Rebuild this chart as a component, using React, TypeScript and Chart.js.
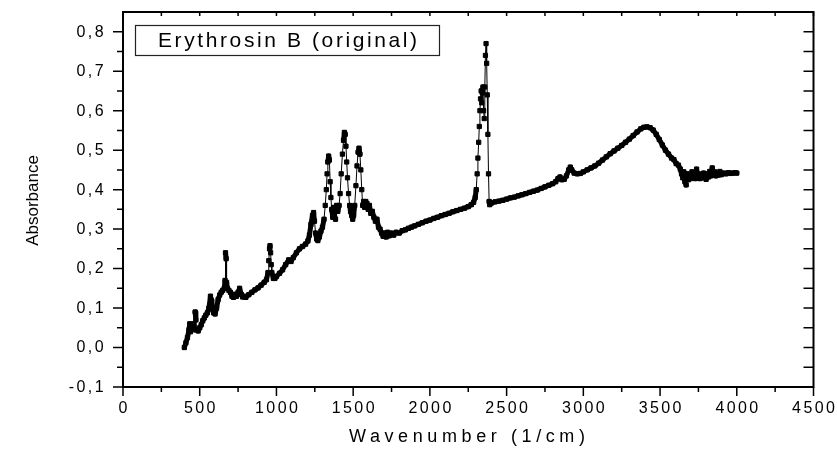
import { useEffect, useRef } from "react";
import { Chart, registerables } from "chart.js";

Chart.register(...registerables);

// FTIR spectrum of Erythrosin B, wavenumber in 1/cm
const wavenumber = [
  400, 410, 420, 430, 435, 440, 450, 460, 465, 470, 475, 480, 490, 500, 510, 520, 530, 540, 550, 560,
  570, 575, 580, 590, 600, 610, 620, 630, 640, 650, 660, 665, 668, 672, 675, 680, 690, 700, 710, 720,
  730, 740, 750, 760, 770, 780, 790, 800, 820, 840, 860, 880, 900, 920, 935, 945, 950, 955, 958, 962,
  966, 970, 980, 990, 1000, 1020, 1040, 1060, 1080, 1095, 1110, 1130, 1150, 1170, 1190, 1205, 1215, 1225, 1235, 1242,
  1248, 1255, 1262, 1270, 1280, 1290, 1300, 1310, 1318, 1325, 1330, 1335, 1340, 1345, 1350, 1355, 1360, 1367, 1372, 1378,
  1385, 1392, 1400, 1408, 1415, 1422, 1430, 1437, 1443, 1448, 1453, 1458, 1463, 1470, 1477, 1483, 1490, 1497, 1503, 1510,
  1518, 1525, 1532, 1538, 1544, 1550, 1556, 1562, 1568, 1575, 1582, 1590, 1598, 1606, 1615, 1625, 1635, 1645, 1655, 1665,
  1675, 1685, 1695, 1705, 1715, 1725, 1735, 1750, 1765, 1780, 1800, 1820, 1840, 1860, 1880, 1900, 1925, 1950, 1975, 2000,
  2025, 2050, 2075, 2100, 2125, 2150, 2175, 2200, 2225, 2250, 2270, 2285, 2295, 2302, 2308, 2313, 2318, 2322, 2326, 2330,
  2334, 2338, 2342, 2346, 2350, 2354, 2358, 2362, 2366, 2370, 2374, 2378, 2382, 2386, 2390, 2400, 2425, 2450, 2475, 2500,
  2525, 2550, 2575, 2600, 2625, 2650, 2675, 2700, 2725, 2750, 2775, 2800, 2820, 2835, 2848, 2860, 2875, 2890, 2905, 2915,
  2925, 2940, 2960, 2980, 3000, 3025, 3050, 3075, 3100, 3125, 3150, 3175, 3200, 3225, 3250, 3275, 3300, 3325, 3350, 3375,
  3395, 3415, 3435, 3455, 3475, 3495, 3515, 3535, 3555, 3575, 3590, 3605, 3620, 3632, 3640, 3648, 3655, 3662, 3670, 3677,
  3685, 3692, 3700, 3708, 3715, 3722, 3730, 3738, 3745, 3752, 3760, 3768, 3776, 3784, 3792, 3800, 3808, 3816, 3824, 3832,
  3840, 3848, 3856, 3864, 3872, 3880, 3890, 3900, 3915, 3930, 3945, 3960, 3975, 3990, 4000,
];

const absorbance = [
  0.0, 0.012, 0.025, 0.045, 0.06, 0.04, 0.055, 0.06, 0.045, 0.09, 0.07, 0.045, 0.042, 0.05, 0.058, 0.068, 0.075, 0.082, 0.088, 0.1,
  0.13, 0.12, 0.1, 0.088, 0.085, 0.1, 0.122, 0.133, 0.14, 0.145, 0.15, 0.17, 0.24, 0.225, 0.165, 0.15, 0.145, 0.14, 0.13, 0.127,
  0.135, 0.13, 0.14, 0.15, 0.135, 0.128, 0.13, 0.127, 0.134, 0.14, 0.146, 0.151, 0.158, 0.165, 0.172, 0.19, 0.22, 0.25, 0.258, 0.24,
  0.21, 0.19, 0.175, 0.175, 0.18, 0.188, 0.197, 0.21, 0.222, 0.218, 0.228, 0.24, 0.25, 0.256, 0.262, 0.27, 0.285, 0.312, 0.335, 0.342,
  0.32, 0.29, 0.275, 0.271, 0.28, 0.295, 0.305, 0.325, 0.36, 0.4, 0.44, 0.47, 0.485, 0.475, 0.42, 0.38, 0.35, 0.33, 0.355, 0.335,
  0.325, 0.36, 0.345, 0.36, 0.39, 0.44, 0.49, 0.525, 0.545, 0.54, 0.51, 0.47, 0.43, 0.39, 0.36, 0.345, 0.335, 0.325, 0.335, 0.36,
  0.41, 0.46, 0.495, 0.505, 0.49, 0.45, 0.4, 0.36, 0.37, 0.355, 0.37, 0.365, 0.35, 0.36, 0.34, 0.345, 0.33, 0.32, 0.325, 0.305,
  0.3, 0.29, 0.282, 0.29, 0.28, 0.292, 0.283, 0.29, 0.285, 0.292, 0.29, 0.296, 0.298, 0.302, 0.305, 0.308, 0.312, 0.316, 0.32, 0.323,
  0.327, 0.33, 0.334, 0.337, 0.34, 0.344, 0.347, 0.35, 0.353, 0.357, 0.362, 0.368, 0.38, 0.4, 0.44, 0.48, 0.52, 0.56, 0.6, 0.63,
  0.65, 0.62, 0.645, 0.66, 0.6, 0.58, 0.66, 0.74, 0.77, 0.72, 0.64, 0.54, 0.44, 0.37, 0.362, 0.366, 0.369, 0.371, 0.373, 0.376,
  0.379, 0.381, 0.384, 0.387, 0.39, 0.393, 0.396, 0.399, 0.403, 0.407, 0.411, 0.415, 0.42, 0.428, 0.432, 0.425, 0.426, 0.435, 0.45, 0.457,
  0.45, 0.442, 0.44, 0.441, 0.445, 0.45, 0.455, 0.46, 0.467, 0.475, 0.483, 0.491, 0.498, 0.505, 0.512, 0.52, 0.528, 0.537, 0.546, 0.554,
  0.558, 0.559, 0.557, 0.551, 0.54, 0.527, 0.513, 0.5, 0.49, 0.48, 0.476, 0.466, 0.462, 0.452, 0.44, 0.43, 0.445, 0.42, 0.412, 0.44,
  0.425, 0.435, 0.428, 0.445, 0.43, 0.438, 0.428, 0.452, 0.432, 0.44, 0.428, 0.436, 0.43, 0.442, 0.432, 0.426, 0.44, 0.432, 0.446, 0.435,
  0.455, 0.438, 0.445, 0.435, 0.443, 0.437, 0.446, 0.438, 0.442, 0.44, 0.443, 0.441, 0.442, 0.443, 0.442,
];

const xTickValues = [0, 500, 1000, 1500, 2000, 2500, 3000, 3500, 4000, 4500];
const yTickValues = [-0.1, 0.0, 0.1, 0.2, 0.3, 0.4, 0.5, 0.6, 0.7, 0.8];

const seriesLabel = "Erythrosin B (original)";
const xTitle = "Wavenumber (1/cm)";
const yTitle = "Absorbance";

const FONT = "'Liberation Sans', Arial, Helvetica, sans-serif";

const formatDecimal = (v: number) => v.toFixed(1).replace(".", ",");

// Densely sampled stretches read as a solid band; steep flanks show a thin
// connecting line between the individual square markers.
const segmentWidth = (ctx: any) => {
  const dx = Math.abs(ctx.p1.x - ctx.p0.x);
  const dy = Math.abs(ctx.p1.y - ctx.p0.y);
  return dy > 9 * dx + 1 ? 1 : 5;
};

// Draws the boxed frame, Origin-style ticks, labels, titles and legend box
const framePlugin = {
  id: "originFrame",
  afterDatasetsDraw(chart: any) {
    const { ctx, chartArea: a, scales } = chart;
    const xs = scales.x;
    const ys = scales.y;
    const anyCtx = ctx as any;

    ctx.save();
    ctx.strokeStyle = "#000";
    ctx.fillStyle = "#000";

    // frame
    ctx.lineWidth = 2;
    ctx.strokeRect(a.left, a.top, a.right - a.left, a.bottom - a.top);

    ctx.lineWidth = 1.5;
    ctx.beginPath();
    // x ticks: major at labels, minor halfway
    const xStep = xTickValues[1] - xTickValues[0];
    xTickValues.forEach((v, i) => {
      const px = xs.getPixelForValue(v);
      ctx.moveTo(px, a.bottom);
      ctx.lineTo(px, a.bottom + 9);
      ctx.moveTo(px, a.top);
      ctx.lineTo(px, a.top + 4);
      if (i < xTickValues.length - 1) {
        const pm = xs.getPixelForValue(v + xStep / 2);
        ctx.moveTo(pm, a.bottom);
        ctx.lineTo(pm, a.bottom + 5);
        ctx.moveTo(pm, a.top);
        ctx.lineTo(pm, a.top + 4);
      }
    });
    // y ticks: major outward on the left, all inward on the right
    const yStep = 0.1;
    yTickValues.forEach((v) => {
      const py = ys.getPixelForValue(v);
      ctx.moveTo(a.left, py);
      ctx.lineTo(a.left - 10, py);
      ctx.moveTo(a.right, py);
      ctx.lineTo(a.right - 10, py);
      const pm = ys.getPixelForValue(v + yStep / 2);
      if (pm > a.top + 1) {
        ctx.moveTo(a.left, pm);
        ctx.lineTo(a.left - 6, pm);
        ctx.moveTo(a.right, pm);
        ctx.lineTo(a.right - 10, pm);
      }
    });
    ctx.stroke();

    // tick labels
    ctx.font = `16px ${FONT}`;
    anyCtx.letterSpacing = "2.4px";
    ctx.textBaseline = "middle";
    ctx.textAlign = "center";
    xTickValues.forEach((v) => {
      ctx.fillText(String(v), xs.getPixelForValue(v) + 1.2, a.bottom + 22);
    });
    ctx.textAlign = "right";
    yTickValues.forEach((v) => {
      ctx.fillText(formatDecimal(v), a.left - 17, ys.getPixelForValue(v) + 0.5);
    });

    // axis titles
    ctx.font = `18px ${FONT}`;
    anyCtx.letterSpacing = "4.6px";
    ctx.textAlign = "center";
    ctx.fillText(xTitle, (a.left + a.right) / 2 + 1, 437);

    ctx.save();
    ctx.font = `17px ${FONT}`;
    anyCtx.letterSpacing = "0px";
    ctx.translate(33, (a.top + a.bottom) / 2 + 1);
    ctx.rotate(-Math.PI / 2);
    ctx.fillText(yTitle, 0, 0);
    ctx.restore();

    // legend box
    ctx.lineWidth = 1.2;
    ctx.strokeStyle = "#222";
    ctx.strokeRect(135.5, 25.5, 304, 30);
    ctx.font = `21px ${FONT}`;
    anyCtx.letterSpacing = "2.6px";
    ctx.textAlign = "left";
    ctx.fillText(seriesLabel, 158, 41);

    anyCtx.letterSpacing = "0px";
    ctx.restore();
  },
};

export default function App() {
  const canvasRef = useRef<HTMLCanvasElement | null>(null);

  useEffect(() => {
    if (!canvasRef.current) return;
    const points = wavenumber.map((w, i) => ({ x: w, y: absorbance[i] }));
    const chart = new Chart(canvasRef.current, {
      type: "line",
      data: {
        datasets: [
          {
            label: seriesLabel,
            data: points,
            borderColor: "#000",
            backgroundColor: "#000",
            borderWidth: 1,
            borderCapStyle: "round",
            borderJoinStyle: "round",
            segment: { borderWidth: segmentWidth },
            pointStyle: "rect",
            pointRadius: 3,
            pointBorderWidth: 1,
            pointBackgroundColor: "#000",
            pointBorderColor: "#000",
            tension: 0,
            fill: false,
          },
        ],
      },
      options: {
        animation: false,
        responsive: false,
        maintainAspectRatio: false,
        devicePixelRatio: 1,
        layout: { padding: { left: 123, right: 23.5, top: 12, bottom: 65 } },
        plugins: {
          legend: { display: false },
          tooltip: { enabled: false },
        },
        scales: {
          x: { type: "linear", min: 0, max: 4500, display: false },
          y: { type: "linear", min: -0.1, max: 0.85, display: false },
        },
      },
      plugins: [framePlugin],
    });
    return () => chart.destroy();
  }, []);

  return (
    <div style={{ position: "absolute", left: 0, top: 0, width: 837, height: 452, background: "#fff" }}>
      <canvas ref={canvasRef} width={837} height={452} style={{ width: 837, height: 452 }} />
    </div>
  );
}
